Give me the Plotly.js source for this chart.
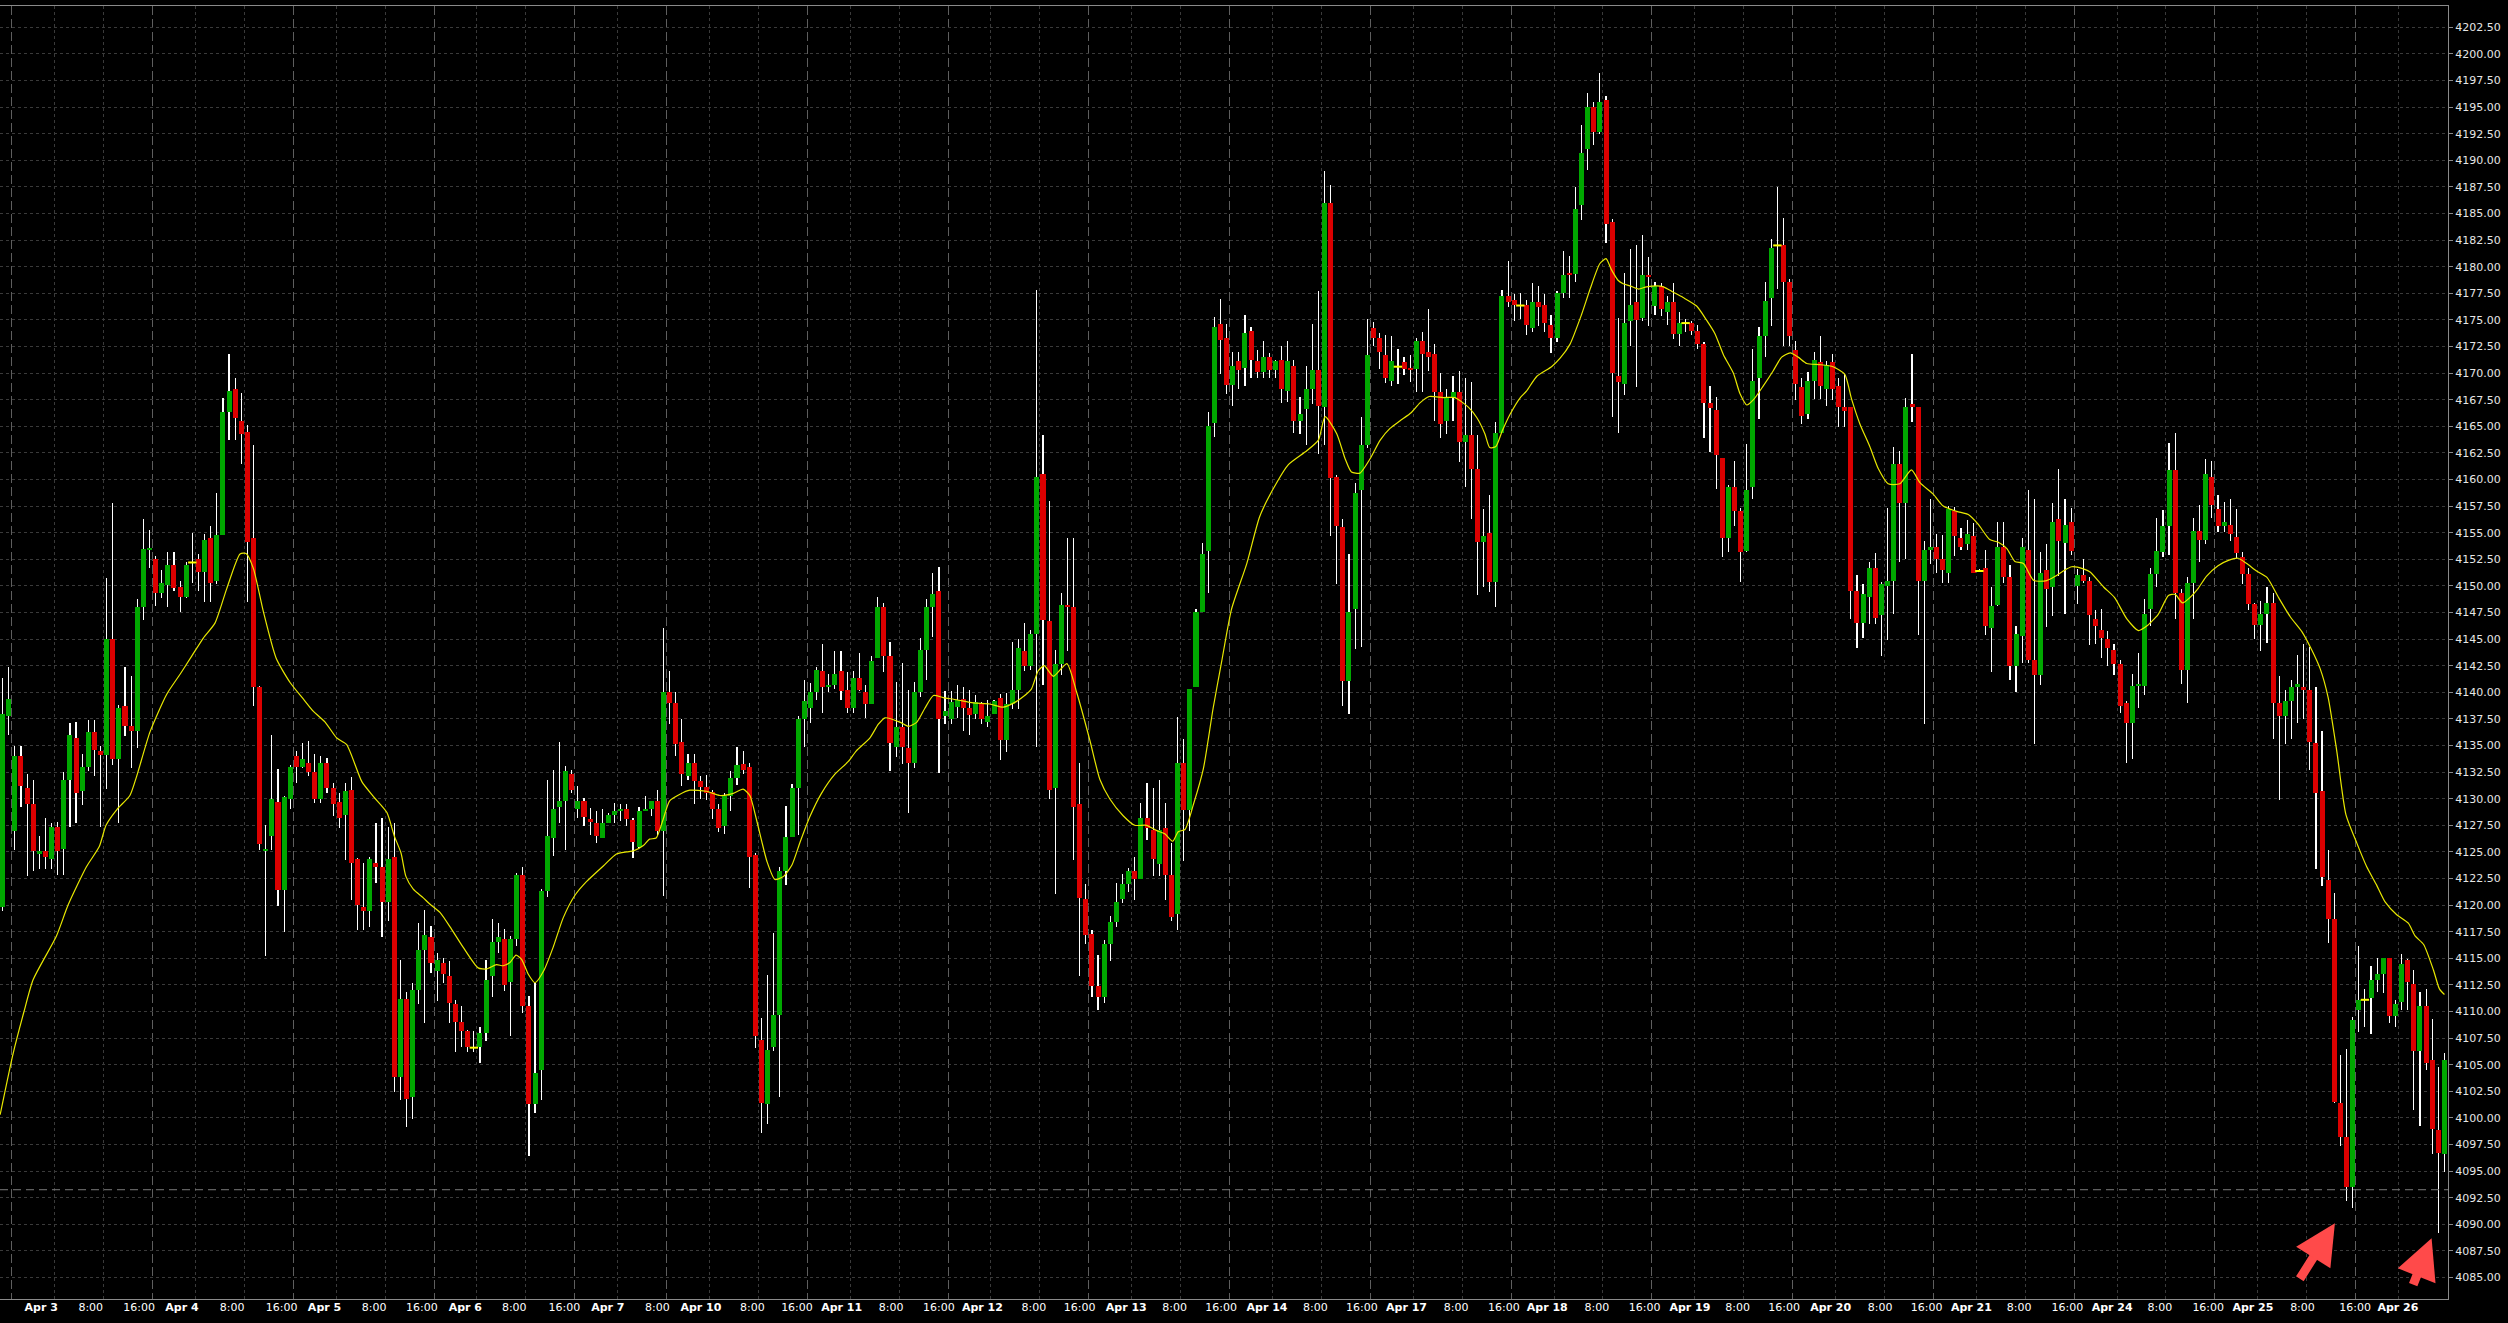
<!DOCTYPE html>
<html>
<head>
<meta charset="utf-8">
<script src="https://cdn.plot.ly/plotly-3.0.1.min.js"></script>
<style>html,body{margin:0;padding:0;background:#000;}#chart{width:2508px;height:1323px;}</style>
</head>
<body>
<div id="chart"></div>
<script>
// ---------- DATA (hourly candles) ----------
const openPrices = [
4119.8,4137.8,4127.0,4134.0,4131.0,4129.5,4124.8,4125.1,4124.3,4127.3,
4125.3,4131.8,4135.7,4130.7,4133.0,4136.3,4134.5,4134.1,4145.0,4133.7,
4138.7,4136.8,4136.4,4148.0,4153.4,4152.5,4149.3,4150.1,4152.0,4149.9,
4149.0,4152.2,4152.5,4151.3,4154.5,4150.5,4154.8,4166.3,4168.5,4165.5,
4164.5,4154.5,4140.5,4125.1,4126.5,4129.7,4121.4,4130.0,4134.0,4133.0,
4133.4,4132.5,4130.0,4133.4,4131.0,4129.7,4128.5,4130.8,4124.3,4119.8,
4119.4,4124.0,4123.6,4120.3,4124.5,4103.8,4111.2,4102.0,4112.0,4115.8,
4117.0,4113.8,4114.6,4113.3,4110.7,4109.0,4108.2,4106.6,4106.7,4108.0,
4113.3,4116.5,4116.8,4112.8,4116.8,4122.8,4110.5,4101.3,4104.5,4121.3,
4126.3,4129.2,4129.8,4132.3,4129.0,4129.8,4128.1,4127.7,4126.3,4127.7,
4128.5,4128.8,4129.0,4128.0,4125.5,4128.8,4129.0,4129.8,4127.0,4140.0,
4139.0,4135.3,4132.1,4133.4,4131.7,4131.1,4130.6,4129.0,4127.45,4130.3,
4131.9,4133.3,4133.0,4124.7,4107.3,4101.3,4106.7,4109.7,4123.2,4126.4,
4131.0,4137.5,4138.5,4140.0,4142.0,4140.5,4140.7,4142.0,4140.2,4138.5,
4141.3,4140.0,4138.9,4143.2,4148.0,4143.4,4134.9,4136.7,4134.8,4133.4,
4140.0,4144.0,4148.0,4149.5,4137.8,4137.5,4138.6,4139.4,4138.5,4138.0,
4138.9,4137.2,4138.0,4139.5,4135.5,4138.9,4140.2,4143.9,4142.5,4145.5,
4160.5,4146.7,4131.0,4142.7,4148.2,4148.0,4129.5,4120.6,4117.3,4112.4,
4111.4,4116.3,4118.4,4120.6,4122.0,4123.2,4122.5,4128.2,4127.1,4123.9,
4127.2,4122.8,4119.2,4133.4,4128.9,4140.5,4147.5,4153.3,4165.3,4174.6,
4173.3,4168.9,4171.1,4170.5,4174.0,4171.1,4170.1,4171.5,4170.3,4171.2,
4168.3,4170.7,4165.5,4166.6,4168.5,4170.3,4166.8,4186.0,4160.2,4155.5,
4141.1,4147.8,4159.0,4163.2,4174.2,4173.3,4171.7,4169.3,4170.6,4171.0,
4170.5,4170.4,4173.0,4172.0,4171.8,4168.2,4165.5,4167.7,4168.2,4163.5,
4164.2,4161.0,4154.1,4155.0,4150.4,4164.4,4177.2,4176.9,4176.35,4176.4,
4174.2,4176.7,4176.4,4174.5,4173.3,4177.5,4179.4,4179.3,4185.8,4191.1,
4195.0,4192.7,4195.7,4184.2,4169.7,4169.0,4174.9,4176.7,4175.2,4179.2,
4176.3,4178.2,4175.7,4176.7,4173.7,4174.7,4174.7,4174.0,4172.7,4167.2,
4166.5,4162.0,4154.5,4159.3,4157.0,4153.3,4159.3,4169.5,4173.5,4177.1,
4182.0,4182.0,4178.6,4172.2,4168.7,4166.2,4169.3,4171.0,4168.5,4171.0,
4168.8,4166.8,4166.8,4149.5,4146.5,4149.0,4151.7,4147.3,4150.0,4150.5,
4161.5,4157.8,4167.1,4166.8,4150.5,4153.4,4153.7,4152.5,4151.2,4157.0,
4154.5,4153.9,4154.7,4151.4,4151.7,4146.0,4148.2,4153.7,4150.8,4142.5,
4145.3,4153.4,4143.0,4141.6,4151.5,4149.9,4156.3,4154.0,4156.0,4150.0,
4151.0,4150.5,4146.9,4145.9,4145.0,4144.0,4142.7,4139.0,4137.1,4140.6,
4140.6,4147.8,4151.1,4153.2,4155.6,4160.9,4149.3,4142.1,4150.3,4155.2,
4154.3,4160.2,4157.2,4155.6,4155.7,4154.6,4152.7,4151.1,4148.3,4146.3,
4147.4,4148.4,4139.0,4137.8,4139.2,4140.5,4140.5,4140.2,4135.2,4130.7,
4122.4,4118.7,4101.4,4098.2,4093.5,4110.1,4111.1,4111.3,4113.0,4113.5,
4115.0,4109.6,4110.9,4114.8,4112.6,4106.3,4110.5,4105.4,4098.9,4096.6
];
const highPrices = [
4141.3,4142.4,4135.0,4135.0,4132.3,4131.8,4126.5,4128.2,4127.7,4127.8,
4132.5,4137.1,4137.2,4134.2,4137.4,4137.4,4135.0,4150.7,4157.8,4138.8,
4142.4,4141.5,4148.8,4156.3,4155.3,4152.8,4151.5,4153.2,4153.2,4150.5,
4152.2,4155.0,4153.0,4154.9,4155.6,4158.7,4167.7,4171.8,4169.5,4168.1,
4165.1,4163.2,4140.6,4127.5,4136.0,4132.8,4130.3,4133.2,4134.5,4135.2,
4135.4,4134.2,4134.0,4133.8,4131.5,4130.5,4131.5,4132.0,4124.4,4124.0,
4124.5,4127.7,4128.2,4127.3,4127.7,4114.8,4111.8,4112.7,4118.3,4119.5,
4118.0,4115.5,4115.0,4114.7,4111.1,4110.5,4108.3,4108.2,4108.5,4114.8,
4118.7,4118.3,4117.8,4117.1,4123.0,4123.6,4111.5,4112.7,4121.5,4131.8,
4132.7,4135.3,4133.1,4132.7,4131.2,4130.1,4129.1,4128.8,4129.0,4128.7,
4129.6,4129.5,4129.5,4128.2,4129.2,4130.3,4129.8,4130.8,4146.0,4142.0,
4140.0,4137.5,4134.2,4134.2,4132.1,4132.2,4130.8,4129.5,4130.5,4132.6,
4134.9,4134.5,4133.4,4124.9,4109.4,4113.4,4117.4,4123.6,4129.3,4131.4,
4137.8,4141.2,4140.9,4142.4,4144.5,4141.7,4143.9,4143.9,4141.9,4142.0,
4143.7,4140.7,4143.4,4149.0,4148.4,4144.7,4141.0,4142.8,4140.2,4141.0,
4145.1,4148.8,4151.2,4151.8,4140.1,4140.1,4140.7,4140.5,4140.2,4139.7,
4139.1,4139.3,4139.3,4139.8,4139.9,4144.7,4145.0,4146.5,4145.9,4177.8,
4164.2,4158.0,4144.0,4149.3,4154.5,4154.5,4133.4,4122.0,4117.7,4115.3,
4116.7,4119.0,4122.1,4122.9,4123.5,4124.5,4129.6,4131.5,4131.0,4131.8,
4129.6,4125.8,4137.7,4135.6,4140.3,4147.8,4154.0,4166.3,4175.3,4177.0,
4174.6,4172.0,4172.0,4175.5,4174.3,4172.2,4173.0,4171.9,4171.2,4172.5,
4173.0,4171.2,4167.8,4170.7,4174.6,4177.7,4189.0,4187.7,4160.4,4156.3,
4153.0,4159.7,4165.9,4175.1,4174.8,4173.8,4173.6,4173.5,4172.3,4171.5,
4171.7,4173.3,4173.9,4176.0,4172.7,4170.0,4168.5,4169.7,4170.2,4169.5,
4169.2,4164.2,4157.2,4158.5,4165.4,4177.8,4180.5,4177.4,4177.5,4176.9,
4178.5,4178.2,4177.4,4175.5,4177.7,4181.5,4181.0,4187.5,4193.3,4196.3,
4195.5,4198.2,4196.0,4184.5,4175.2,4179.4,4181.7,4182.0,4183.0,4180.9,
4178.6,4178.5,4177.2,4178.5,4175.7,4175.1,4174.9,4174.5,4172.9,4168.8,
4167.8,4162.0,4159.5,4161.7,4157.3,4163.3,4172.3,4174.3,4178.6,4182.6,
4187.5,4184.6,4178.8,4173.0,4169.5,4170.1,4172.0,4173.5,4171.1,4171.8,
4169.5,4169.9,4166.8,4151.0,4150.2,4152.2,4153.1,4150.4,4157.3,4163.1,
4162.7,4167.7,4171.8,4166.8,4154.2,4158.2,4154.9,4154.8,4157.5,4157.4,
4155.4,4156.2,4155.9,4151.6,4153.4,4149.9,4156.0,4156.0,4152.0,4146.2,
4154.5,4159.0,4158.2,4153.2,4153.9,4157.8,4161.0,4158.2,4157.3,4151.6,
4152.5,4150.8,4147.7,4147.8,4145.8,4144.5,4143.0,4139.2,4141.7,4143.7,
4148.8,4151.7,4156.4,4157.1,4163.4,4164.4,4149.7,4150.8,4156.4,4157.6,
4161.9,4161.7,4158.5,4157.9,4158.2,4157.2,4153.2,4151.7,4148.4,4148.6,
4149.9,4149.3,4141.5,4140.2,4141.2,4143.5,4144.5,4144.3,4140.5,4136.4,
4125.2,4121.1,4105.9,4106.5,4109.5,4116.2,4112.1,4114.3,4115.0,4115.0,
4115.0,4111.1,4115.4,4114.9,4113.9,4111.8,4112.1,4109.3,4104.8,4106.1
];
const lowPrices = [
4119.4,4136.0,4125.2,4129.2,4122.7,4123.2,4123.4,4123.4,4123.4,4122.8,
4122.8,4127.3,4127.7,4129.4,4132.6,4132.1,4127.3,4130.9,4133.2,4127.7,
4135.9,4132.9,4134.8,4146.8,4151.7,4148.1,4148.9,4148.0,4149.5,4147.5,
4148.9,4150.3,4149.5,4148.5,4148.5,4150.2,4154.8,4163.7,4163.7,4161.5,
4148.5,4138.7,4125.2,4115.2,4125.2,4119.9,4117.5,4129.0,4131.5,4132.9,
4132.1,4129.6,4129.6,4130.5,4128.4,4127.2,4124.2,4120.5,4117.7,4117.7,
4117.9,4122.1,4117.0,4118.5,4102.4,4101.7,4099.1,4099.9,4110.7,4108.9,
4113.6,4111.0,4112.7,4108.9,4106.2,4106.7,4106.2,4106.2,4105.2,4107.2,
4111.4,4115.5,4111.9,4107.7,4116.2,4109.9,4096.4,4100.5,4101.7,4120.8,
4124.6,4127.7,4125.2,4130.5,4128.2,4127.4,4126.6,4125.8,4126.3,4127.7,
4127.7,4127.9,4127.4,4124.4,4125.4,4128.8,4128.4,4126.5,4120.9,4137.0,
4134.0,4131.2,4131.8,4129.5,4130.0,4129.9,4128.1,4126.9,4126.7,4128.8,
4131.3,4132.3,4121.6,4106.6,4098.6,4099.4,4106.3,4102.0,4121.9,4126.4,
4126.6,4134.9,4137.1,4139.3,4138.1,4140.0,4140.3,4139.3,4138.1,4138.1,
4140.1,4137.6,4138.9,4143.2,4141.9,4132.6,4133.9,4133.3,4128.7,4132.9,
4139.6,4141.2,4145.2,4132.4,4137.0,4137.0,4137.6,4136.4,4136.0,4137.5,
4137.0,4136.7,4138.0,4133.6,4134.4,4138.4,4138.4,4142.0,4142.1,4134.9,
4140.7,4130.0,4121.0,4141.6,4143.9,4124.2,4113.3,4116.3,4111.4,4110.1,
4110.8,4114.7,4117.9,4120.2,4121.2,4120.5,4122.5,4126.1,4122.7,4122.7,
4120.5,4118.5,4117.7,4124.1,4127.0,4140.5,4147.5,4149.3,4164.0,4169.9,
4168.0,4166.9,4168.5,4168.8,4169.5,4169.5,4169.5,4169.5,4169.5,4167.2,
4167.3,4164.4,4164.3,4163.2,4167.1,4162.4,4163.2,4154.7,4150.2,4138.7,
4138.0,4144.1,4144.3,4163.0,4172.5,4170.4,4169.1,4168.8,4169.0,4169.8,
4169.2,4168.2,4168.2,4170.2,4165.5,4163.9,4164.3,4165.5,4161.6,4159.3,
4156.3,4149.1,4149.9,4149.4,4148.0,4164.4,4176.2,4174.9,4175.1,4173.6,
4173.9,4174.4,4173.9,4171.9,4172.9,4177.1,4177.1,4178.6,4184.4,4189.1,
4191.4,4192.5,4182.2,4165.9,4164.4,4167.9,4172.5,4168.7,4174.9,4174.4,
4175.5,4175.4,4174.5,4173.2,4172.5,4173.9,4173.6,4172.3,4163.9,4162.6,
4159.1,4152.7,4153.2,4155.6,4150.4,4153.2,4158.2,4165.7,4171.5,4174.4,
4177.9,4172.5,4172.5,4167.5,4165.2,4165.7,4167.6,4167.6,4166.9,4167.5,
4164.9,4164.9,4146.9,4144.2,4145.1,4146.4,4146.4,4143.4,4144.9,4147.4,
4152.2,4152.5,4165.4,4145.4,4137.0,4152.1,4151.2,4150.3,4150.3,4152.8,
4153.4,4153.4,4151.2,4151.3,4145.4,4141.9,4148.1,4150.3,4141.2,4140.0,
4142.8,4142.8,4135.1,4140.7,4146.1,4147.2,4150.9,4147.4,4152.9,4148.3,
4150.3,4144.4,4144.5,4143.2,4142.5,4141.6,4138.1,4133.4,4133.7,4138.5,
4139.7,4146.2,4149.9,4152.7,4152.9,4146.9,4140.8,4139.0,4146.9,4152.2,
4153.9,4156.4,4155.1,4155.1,4154.2,4152.6,4150.2,4147.7,4145.0,4143.9,
4144.6,4135.6,4129.9,4135.1,4135.6,4137.1,4137.5,4132.7,4123.4,4121.8,
4116.4,4101.4,4097.4,4092.2,4091.5,4108.1,4108.5,4107.9,4111.8,4111.7,
4108.9,4108.5,4110.1,4110.1,4100.7,4099.2,4104.5,4096.6,4089.2,4094.9
];
const closePrices = [
4138.0,4139.4,4134.0,4131.2,4129.5,4125.1,4125.1,4124.5,4127.3,4125.1,
4131.8,4136.0,4130.5,4133.0,4136.3,4134.6,4134.1,4145.0,4133.7,4138.5,
4136.8,4136.4,4148.0,4153.5,4153.6,4149.3,4150.3,4152.0,4149.8,4149.0,
4152.0,4152.2,4151.3,4154.3,4150.3,4154.8,4166.3,4168.3,4165.8,4164.3,
4154.1,4140.5,4125.7,4125.3,4130.0,4121.4,4130.2,4133.0,4133.0,4133.7,
4132.5,4130.0,4133.4,4131.0,4129.5,4128.2,4130.7,4124.0,4120.0,4119.4,
4124.3,4123.6,4120.3,4124.3,4103.8,4111.2,4101.8,4112.0,4115.8,4117.2,
4114.6,4114.8,4113.5,4110.8,4109.0,4108.2,4106.7,4106.6,4108.0,4113.0,
4116.5,4117.0,4112.5,4116.8,4122.8,4110.5,4101.3,4104.2,4121.3,4126.5,
4129.0,4129.8,4132.6,4130.8,4129.8,4128.3,4127.8,4126.5,4127.7,4128.5,
4128.8,4129.0,4128.1,4125.9,4128.8,4129.0,4129.8,4127.0,4140.0,4139.0,
4135.1,4132.3,4133.4,4131.7,4131.1,4130.5,4129.0,4127.2,4130.3,4131.9,
4133.2,4132.7,4124.5,4107.7,4101.4,4106.4,4109.7,4123.2,4126.4,4131.0,
4137.5,4139.2,4140.0,4142.1,4140.5,4140.7,4141.7,4140.1,4138.5,4141.3,
4140.2,4138.9,4142.9,4148.0,4143.4,4135.2,4136.7,4134.9,4133.4,4140.0,
4144.0,4148.0,4149.2,4137.5,4138.2,4139.05,4139.3,4138.5,4137.9,4139.05,
4137.5,4137.8,4139.2,4135.5,4138.9,4140.2,4144.2,4142.5,4145.5,4160.2,
4146.8,4130.8,4142.7,4148.2,4148.0,4129.2,4120.7,4117.2,4112.4,4111.4,
4116.3,4118.4,4120.3,4122.0,4123.2,4122.5,4128.2,4127.2,4124.3,4127.1,
4122.8,4118.9,4133.4,4128.9,4140.3,4147.5,4153.0,4165.0,4174.3,4173.1,
4168.9,4170.7,4170.3,4173.8,4171.2,4170.1,4171.5,4170.3,4171.1,4168.5,
4171.1,4165.5,4166.2,4168.5,4170.3,4166.9,4186.0,4160.1,4155.6,4141.1,
4147.5,4158.7,4163.2,4171.7,4173.3,4172.0,4169.5,4171.1,4170.6,4170.4,
4170.3,4173.0,4171.8,4171.5,4168.2,4165.2,4167.7,4168.2,4163.5,4164.2,
4161.0,4154.1,4154.7,4150.4,4164.4,4177.2,4176.7,4176.4,4176.35,4174.5,
4176.7,4176.2,4174.7,4173.3,4177.5,4179.2,4179.2,4185.4,4190.7,4195.0,
4192.7,4195.5,4184.0,4170.0,4169.2,4174.7,4176.4,4175.0,4179.2,4179.0,
4178.2,4176.0,4176.7,4173.7,4174.7,4174.7,4174.0,4172.7,4167.2,4166.7,
4162.3,4154.5,4159.3,4157.0,4153.2,4159.0,4169.3,4173.5,4176.8,4181.8,
4182.0,4178.6,4173.5,4169.0,4166.0,4169.3,4171.2,4168.8,4170.8,4168.5,
4166.8,4166.4,4149.5,4146.5,4149.2,4151.7,4147.0,4150.2,4150.5,4161.5,
4157.8,4166.8,4166.8,4150.5,4153.4,4153.7,4152.5,4151.5,4157.2,4154.7,
4153.7,4154.9,4151.2,4151.4,4146.2,4148.1,4153.7,4150.8,4142.5,4145.5,
4153.7,4143.0,4141.6,4151.2,4149.7,4156.0,4154.2,4155.7,4153.3,4151.0,
4150.5,4147.3,4146.2,4145.1,4144.2,4142.7,4138.7,4137.1,4140.6,4140.8,
4147.4,4151.1,4153.3,4155.6,4160.9,4149.3,4142.1,4150.3,4155.2,4154.3,
4160.5,4157.6,4155.6,4156.0,4154.9,4153.1,4151.1,4148.3,4146.3,4147.4,
4148.4,4139.0,4137.8,4139.2,4140.5,4140.8,4140.2,4135.3,4130.5,4122.6,
4118.7,4101.5,4098.2,4093.5,4109.2,4111.1,4111.1,4113.0,4113.5,4115.0,
4109.6,4110.7,4114.5,4112.8,4106.3,4110.5,4105.2,4099.0,4096.7,4105.4
];

// moving average (yellow line), read at bar positions
const maBar = [-0.4,1.7,3.5,5.0,8.8,10.7,13.7,15.8,16.9,18.7,20.8,21.9,24.1,26.8,29.0,30.9,32.8,34.7,36.6,38.8,39.8,41.0,42.6,44.7,47.0,49.1,50.8,52.7,54.6,
56.2,58.7,60.6,62.8,64.0,65.1,65.9,67.1,68.7,69.8,71.5,73.4,75.3,77.7,79.1,80.7,81.8,82.9,83.9,84.8,85.9,87.0,88.4,90.0,91.6,93.5,95.4,98.2,100.3,102.0,103.1,104.7,105.7,106.8,107.9,109.0,110.6,
112.3,115.0,117.2,119.4,121.0,122.1,123.2,124.9,126.2,127.6,129.0,130.3,131.9,133.8,136.0,138.2,139.5,141.7,143.1,144.2,146.6,148.0,149.4,150.7,152.1,153.7,155.9,158.6,161.3,163.5,165.4,166.8,168.1,169.2,170.2,
171.7,173.9,175.5,177.7,179.3,180.9,183.1,185.0,186.9,188.6,189.9,191.2,192.1,193.2,194.6,196.2,197.8,199.2,200.8,203.3,205.4,207.6,210.1,213.1,215.0,216.1,218.0,219.4,220.4,221.8,223.4,225.1,226.7,
228.3,230.2,231.6,233.1,235.4,237.3,239.5,240.9,242.2,243.0,244.0,245.0,246.3,248.0,249.0,250.7,253.1,254.5,256.1,258.0,259.4,261.0,262.0,262.9,264.0,264.8,265.9,267.3,268.6,270.3,271.4,273.0,274.6,276.8,278.4,279.8,281.2,282.8,
283.9,285.0,286.1,287.7,289.3,290.7,292.1,293.4,294.8,296.9,299.1,301.0,302.1,303.5,305.1,306.5,308.1,310.0,311.9,313.3,315.5,317.1,319.3,321.2,322.8,324.7,326.1,327.5,328.8,330.2,331.9,334.0,335.4,336.7,338.1,340.0,
341.1,343.3,345.1,347.1,349.0,350.3,352.2,353.9,355.0,356.2,357.4,358.8,360.1,362.0,363.7,365.3,366.7,368.3,370.0,371.9,373.8,375.7,377.3,378.7,380.0,381.4,382.9,384.7,386.3,387.9,389.3,391.2,393.1,394.2,395.6,397.2,398.2,399.0];
const maValue = [4100.3,4106.0,4110.0,4113.0,4117.1,4120.0,4123.6,4125.5,4127.5,4129.0,4130.3,4132.1,4136.3,4139.8,4141.7,4143.4,4145.1,4146.5,4149.7,4153.0,4153.05,4151.6,4147.6,4143.2,4140.9,4139.4,4138.2,4137.2,4135.7,
4135.1,4131.6,4130.2,4128.7,4126.5,4124.9,4122.7,4121.5,4120.7,4120.1,4119.3,4117.7,4116.0,4114.1,4114.0,4114.4,4114.3,4114.6,4115.3,4114.9,4113.5,4112.7,4113.8,4116.1,4118.8,4120.9,4122.2,4123.7,4124.8,4125.0,4125.1,4125.6,4126.2,4126.3,4128.0,4129.8,4130.4,
4130.8,4130.7,4130.3,4130.5,4130.9,4130.3,4128.0,4124.1,4122.4,4122.7,4123.8,4125.9,4128.3,4130.5,4132.3,4133.5,4134.5,4135.7,4137.0,4137.6,4137.2,4136.8,4137.2,4138.5,4139.7,4139.5,4139.3,4139.0,4138.9,4138.6,4139.05,4139.6,4140.3,4142.0,4142.5,
4141.5,4142.7,4140.0,4135.4,4131.8,4130.0,4128.4,4127.5,4127.5,4127.0,4126.7,4126.0,4126.9,4127.1,4129.5,4132.8,4138.5,4142.9,4147.8,4152.1,4156.5,4159.1,4161.4,4162.7,4163.7,4165.9,4164.3,4161.9,4160.7,4160.6,4161.9,4163.7,4164.8,
4165.5,4166.3,4167.2,4167.8,4167.7,4167.7,4166.8,4165.8,4164.3,4163.0,4163.1,4164.5,4166.1,4167.7,4168.3,4169.7,4170.6,4171.4,4172.7,4175.5,4177.9,4180.3,4180.75,4179.7,4178.7,4178.4,4178.2,4177.9,4178.1,4178.2,4178.1,4177.6,4177.1,4176.3,4175.0,4173.7,4171.7,4170.0,
4168.05,4167.0,4167.5,4168.8,4170.2,4171.5,4171.9,4171.5,4170.9,4170.8,4170.6,4169.9,4167.6,4165.2,4163.1,4161.0,4159.6,4159.6,4160.9,4159.7,4158.6,4157.5,4157.0,4156.7,4155.8,4154.35,4154.1,4153.5,4152.3,4152.1,4150.5,4150.5,4150.9,4151.4,4151.8,4151.6,
4151.3,4149.9,4148.9,4146.9,4145.8,4146.2,4147.3,4149.1,4149.2,4148.4,4148.9,4149.8,4150.9,4151.9,4152.4,4152.6,4152.1,4151.4,4150.8,4148.9,4147.1,4145.7,4144.0,4142.2,4139.5,4134.5,4128.5,4125.8,4123.6,4121.9,4120.3,4119.1,4118.3,4117.1,4116.3,4113.9,4112.1,4111.6];

// horizontal price line (gray dashed)
const priceLineLevel = 4093.25;

// day structure (first and last bar index of each trading day) and axis tick labels
const dayStartBar = [2,25,48,71,94,109,132,155,178,201,224,247,270,293,316,339,362,385];
const dayEndBar   = [24,47,70,93,108,131,154,177,200,223,246,269,292,315,338,361,384,399];
const xLabelText = ['Apr 3','8:00','16:00','Apr 4','8:00','16:00','Apr 5','8:00','16:00','Apr 6','8:00','16:00','Apr 7','8:00',
 'Apr 10','8:00','16:00','Apr 11','8:00','16:00','Apr 12','8:00','16:00','Apr 13','8:00','16:00','Apr 14','8:00','16:00',
 'Apr 17','8:00','16:00','Apr 18','8:00','16:00','Apr 19','8:00','16:00','Apr 20','8:00','16:00','Apr 21','8:00','16:00',
 'Apr 24','8:00','16:00','Apr 25','8:00','16:00','Apr 26'];
const xLabelBar = [6.3,14.4,22.3,29.3,37.5,45.6,52.6,60.7,68.5,75.6,83.6,91.8,98.9,107.0,
 114.1,122.5,129.8,137.1,145.2,153.0,160.1,168.5,176.0,183.6,191.5,199.1,206.6,214.5,222.1,
 229.4,237.5,245.3,252.4,260.5,268.3,275.7,283.5,291.1,298.7,306.8,314.4,321.7,329.5,337.4,
 344.7,352.5,360.4,367.7,375.8,384.4,391.4];
const yTickValues = [4085,4087.5,4090,4092.5,4095,4097.5,4100,4102.5,4105,4107.5,4110,4112.5,4115,4117.5,4120,4122.5,4125,4127.5,
 4130,4132.5,4135,4137.5,4140,4142.5,4145,4147.5,4150,4152.5,4155,4157.5,4160,4162.5,4165,4167.5,4170,4172.5,4175,4177.5,
 4180,4182.5,4185,4187.5,4190,4192.5,4195,4197.5,4200,4202.5];

// annotation arrows: tip (bar, price)
const arrowTipBar = [381.1, 396.9];
const arrowTipPrice = [4090.1, 4088.7];

// ---------- BUILD TRACES ----------
const UP = '#00a800', DOWN = '#dc0000', DOJI = '#ffff00';
const idx = closePrices.map((_, i) => i);

// wicks: thin white bars from low to high (drawn first, bodies cover them)
const wickBase = idx.map(i => lowPrices[i]);
const wickLen = idx.map(i => highPrices[i] - lowPrices[i]);

const bodyX = [], bodyBase = [], bodyH = [], bodyColor = [];
const dojiX = [], dojiY = [];
idx.forEach(i => {
  const o = openPrices[i], c = closePrices[i];
  if (o === c) { dojiX.push(i); dojiY.push(o); return; }
  bodyX.push(i); bodyBase.push(Math.min(o, c)); bodyH.push(Math.abs(c - o));
  bodyColor.push(c > o ? UP : DOWN);
});

const xMin = -0.425, xMax = 399.58;

const traces = [
  { type:'bar', x:idx, base:wickBase, y:wickLen, width:0.19, opacity:1,
    marker:{color:'#ffffff', opacity:1, line:{width:0}}, hoverinfo:'skip' },
  { type:'bar', x:bodyX, base:bodyBase, y:bodyH, width:0.82, opacity:1,
    marker:{color:bodyColor, opacity:1, line:{width:0}}, hoverinfo:'skip' },
  { type:'scatter', mode:'lines', x:[xMin, xMax], y:[priceLineLevel, priceLineLevel], xaxis:'x2',
    line:{color:'#7a7a7a', width:1, dash:'8px,5px'}, hoverinfo:'skip' },
  { type:'scatter', mode:'markers', x:dojiX, y:dojiY, marker:{symbol:'line-ew', size:6, line:{color:DOJI, width:2}}, hoverinfo:'skip' },
  { type:'scatter', mode:'lines', x:maBar, y:maValue, line:{color:'#e8e800', width:1.2, shape:'spline', smoothing:0.6}, hoverinfo:'skip' }
];

// vertical grid positions
const sepGrid = dayStartBar.map(s => s - 0.5);
const hourGrid = [];
dayStartBar.forEach((s, k) => {
  [6.5, 14.5].forEach(off => { if (s + off < dayEndBar[k] + 0.5) hourGrid.push(s + off); });
});

const labelTicks = xLabelText.map(t => t.startsWith('Apr') ? '<b>' + t + '</b>' : t);

const layout = {
  width:2508, height:1323,
  paper_bgcolor:'#000000', plot_bgcolor:'#000000',
  margin:{l:0, r:60, t:6, b:24, pad:0, autoexpand:false},
  showlegend:false, barmode:'overlay', bargap:0,
  font:{family:'DejaVu Sans', size:11, color:'#ffffff'},
  xaxis:{
    range:[xMin, xMax], tickmode:'array', tickvals:sepGrid, showticklabels:false, ticks:'',
    showgrid:true, gridcolor:'#5e5e5e', griddash:'9px,4px', gridwidth:1,
    minor:{tickmode:'array', tickvals:hourGrid, showgrid:true, gridcolor:'#3a3a3a', griddash:'3px,3px', gridwidth:1, ticks:''},
    zeroline:false, showline:true, linecolor:'#8a8a8a', linewidth:1, mirror:true, fixedrange:true
  },
  xaxis2:{
    range:[xMin, xMax], overlaying:'x', anchor:'y', side:'bottom',
    tickmode:'array', tickvals:xLabelBar, ticktext:labelTicks, ticks:'', ticklen:0,
    showgrid:false, zeroline:false, showline:false,
    tickfont:{family:'DejaVu Sans', size:11, color:'#ffffff'}, fixedrange:true
  },
  yaxis:{
    range:[4082.98, 4204.50], side:'right', tickmode:'array', tickvals:yTickValues,
    ticktext:yTickValues.map(v => v.toFixed(2)),
    ticks:'outside', ticklen:4, tickcolor:'#8a8a8a',
    tickfont:{family:'DejaVu Sans', size:11, color:'#e6e6e6'},
    showgrid:true, gridcolor:'#3a3a3a', griddash:'3px,3px', gridwidth:1,
    zeroline:false, showline:true, linecolor:'#8a8a8a', linewidth:1, mirror:false, fixedrange:true
  },
  annotations: [
    {x:arrowTipBar[0], y:arrowTipPrice[0], xref:'x', yref:'y', text:'', showarrow:true,
     ax:-36, ay:57, arrowcolor:'#ff4a4a', arrowwidth:9, arrowhead:2, arrowsize:0.9, standoff:0},
    {x:arrowTipBar[1], y:arrowTipPrice[1], xref:'x', yref:'y', text:'', showarrow:true,
     ax:-19, ay:48, arrowcolor:'#ff4a4a', arrowwidth:9, arrowhead:2, arrowsize:0.9, standoff:0}
  ]
};

Plotly.newPlot('chart', traces, layout, {displayModeBar:false, staticPlot:true});
</script>
</body>
</html>
